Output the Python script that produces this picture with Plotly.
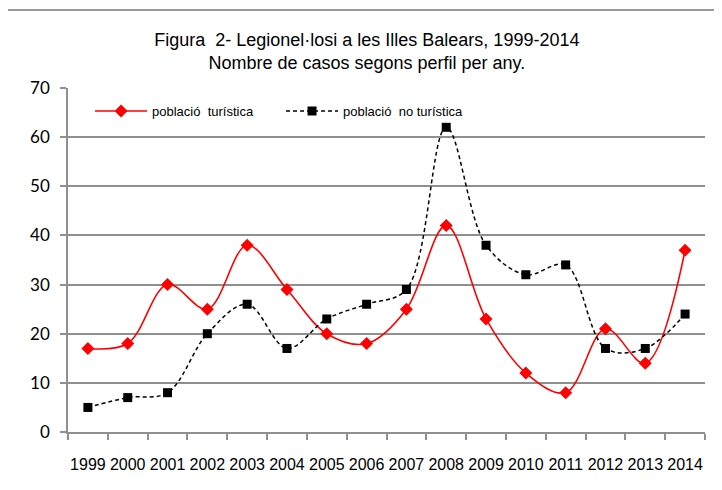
import plotly.graph_objects as go

anys = ['1999', '2000', '2001', '2002', '2003', '2004', '2005', '2006',
        '2007', '2008', '2009', '2010', '2011', '2012', '2013', '2014']
turistica = [17, 18, 30, 25, 38, 29, 20, 18, 25, 42, 23, 12, 8, 21, 14, 37]
no_turistica = [5, 7, 8, 20, 26, 17, 23, 26, 29, 62, 38, 32, 34, 17, 17, 24]

titol = ('Figura  2- Legionel·losi a les Illes Balears, 1999-2014<br>'
         'Nombre de casos segons perfil per any.')

gris = '#8f8f8f'

fig = go.Figure()

# poblacio turistica: red smooth line with diamonds
fig.add_trace(go.Scatter(
    x=anys, y=turistica, name='població  turística',
    mode='lines+markers',
    line=dict(color='#ff0000', width=1.6, shape='spline', smoothing=1),
    marker=dict(symbol='diamond', size=10, color='#ff0000'),
))

# poblacio no turistica: black dashed line with squares
fig.add_trace(go.Scatter(
    x=anys, y=no_turistica, name='població  no turística',
    mode='lines+markers',
    line=dict(color='#000000', width=1.5, dash='4px,3px', shape='spline', smoothing=1),
    marker=dict(symbol='square', size=9, color='#000000'),
))

# the page adds an 8px body margin, so margins are shifted to compensate
fig.update_layout(
    width=722, height=490,
    margin=dict(l=60, r=25, t=80, b=66),
    paper_bgcolor='white', plot_bgcolor='white',
    font=dict(family='Liberation Sans, Arial, sans-serif', color='#000000'),
    title=dict(text=titol, x=0.497, xanchor='center', y=0.923, yanchor='middle',
               font=dict(family='Liberation Sans, Arial', size=18)),
    showlegend=True,
    legend=dict(orientation='h', x=0.0346, xanchor='left', y=0.933, yanchor='middle',
                bgcolor='rgba(0,0,0,0)', font=dict(size=13), itemwidth=52,
                entrywidth=124, entrywidthmode='pixels', traceorder='normal'),
    xaxis=dict(
        type='category', tickson='boundaries', showgrid=False,
        showline=True, linecolor=gris, linewidth=1.5,
        ticks='outside', ticklen=6, tickcolor=gris, tickwidth=1.5,
        tickfont=dict(size=16), tickangle=0, ticklabelstandoff=17,
        range=[-0.5, 15.5], automargin=False,
    ),
    yaxis=dict(
        range=[0, 70], dtick=10, showgrid=True, gridcolor=gris, gridwidth=1.6,
        showline=True, linecolor=gris, linewidth=1.5, zeroline=False,
        ticks='outside', ticklen=6, tickcolor=gris, tickwidth=1.5, automargin=False,
        tickfont=dict(family='Lato, Liberation Sans, Arial', size=17), ticklabelstandoff=7,
    ),
    shapes=[dict(type='rect', xref='paper', yref='paper',
                 x0=-0.0958, x1=1.05, y0=-0.2, y1=1.2267,
                 line=dict(color='#9a9a9a', width=2), layer='below')],
)

fig.write_html("out.html")
